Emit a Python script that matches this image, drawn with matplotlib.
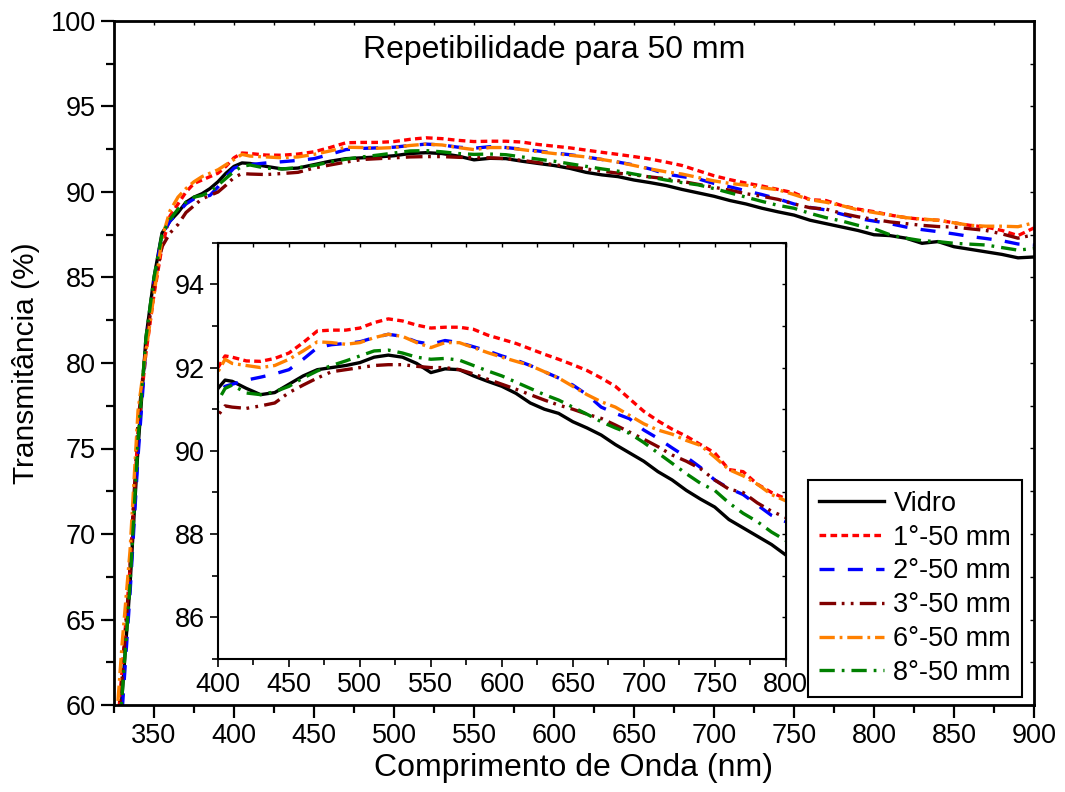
import matplotlib
matplotlib.use("Agg")
import matplotlib.pyplot as plt
from matplotlib.ticker import MultipleLocator

plt.rcParams['font.family'] = ['Liberation Sans', 'DejaVu Sans']
plt.rcParams['lines.scale_dashes'] = False

# wavelength grid (nm)
wavelength = list(range(325, 410, 5)) + list(range(410, 910, 10))

vidro = [55.0, 60.5, 67.0, 75.0, 81.5, 85.0, 87.6, 88.3, 88.8, 89.4, 89.7, 89.9, 90.2, 90.6, 91.1, 91.5, 91.7,
         91.67, 91.5, 91.35, 91.4, 91.6, 91.8, 91.95, 92.0, 92.05, 92.12,
         92.25, 92.3, 92.25, 92.1, 91.88, 91.97, 91.95, 91.8, 91.67, 91.55,
         91.38, 91.15, 91.0, 90.9, 90.7, 90.55, 90.38, 90.15, 89.95, 89.75,
         89.5, 89.3, 89.05, 88.84, 88.65, 88.35, 88.15, 87.95, 87.75, 87.5,
         87.45, 87.3, 87.0, 87.1, 86.8, 86.65, 86.5, 86.35, 86.15, 86.2]

rep1 = [56.0, 62.0, 68.0, 76.0, 80.6, 84.0, 86.8, 88.6, 89.3, 90.0, 90.5, 90.7, 90.9, 91.1, 91.5, 92.0, 92.28,
        92.25, 92.16, 92.15, 92.22, 92.35, 92.6, 92.88, 92.9, 92.9, 92.95,
        93.08, 93.17, 93.12, 93.02, 92.95, 92.97, 92.97, 92.92, 92.78, 92.68,
        92.58, 92.45, 92.32, 92.2, 92.07, 91.93, 91.75, 91.55, 91.25, 90.95,
        90.72, 90.52, 90.35, 90.15, 89.95, 89.55, 89.5, 89.2, 89.0, 88.85,
        88.65, 88.5, 88.4, 88.35, 88.2, 88.05, 87.95, 87.75, 87.45, 87.9]

rep2 = [54.0, 59.5, 66.5, 74.5, 81.0, 84.8, 87.5, 88.3, 88.8, 89.3, 89.6, 89.7, 89.8, 90.3, 90.9, 91.4, 91.55,
        91.6, 91.7, 91.77, 91.85, 91.95, 92.2, 92.48, 92.55, 92.58, 92.62,
        92.72, 92.8, 92.75, 92.62, 92.56, 92.65, 92.6, 92.5, 92.4, 92.28,
        92.18, 92.05, 91.9, 91.75, 91.58, 91.35, 91.05, 90.9, 90.77, 90.5,
        90.3, 90.07, 89.85, 89.6, 89.3, 89.1, 88.95, 88.7, 88.45, 88.3,
        88.15, 87.95, 87.8, 87.68, 87.55, 87.4, 87.28, 87.15, 86.96, 86.9]

rep3 = [56.0, 61.5, 68.0, 76.5, 81.0, 84.5, 86.8, 87.6, 88.1, 88.8, 89.2, 89.6, 89.8, 90.0, 90.4, 90.85, 91.08,
        91.05, 91.02, 91.08, 91.15, 91.4, 91.58, 91.75, 91.9, 91.95, 92.0,
        92.05, 92.07, 92.07, 92.03, 92.0, 92.0, 91.95, 91.85, 91.72, 91.6,
        91.48, 91.35, 91.22, 91.1, 91.0, 90.88, 90.78, 90.62, 90.45, 90.28,
        90.1, 89.9, 89.75, 89.57, 89.3, 89.08, 89.0, 88.75, 88.55, 88.4,
        88.25, 88.15, 88.05, 87.98, 87.95, 87.85, 87.75, 87.55, 87.3, 87.5]

rep6 = [57.0, 63.5, 69.0, 77.2, 80.7, 84.0, 87.3, 88.9, 89.7, 90.2, 90.6, 90.9, 91.1, 91.3, 91.6, 91.9, 92.2,
        92.1, 92.05, 92.0, 92.05, 92.2, 92.4, 92.62, 92.6, 92.56, 92.6,
        92.72, 92.8, 92.75, 92.6, 92.48, 92.6, 92.6, 92.48, 92.36, 92.25,
        92.15, 92.05, 91.9, 91.75, 91.55, 91.35, 91.18, 91.05, 90.85, 90.65,
        90.5, 90.4, 90.25, 90.13, 89.85, 89.55, 89.4, 89.2, 88.95, 88.8,
        88.65, 88.5, 88.42, 88.35, 88.2, 88.05, 88.0, 88.0, 87.97, 88.2]

rep8 = [55.0, 60.5, 67.0, 75.5, 81.5, 85.0, 87.5, 88.4, 89.0, 89.4, 89.7, 89.8, 90.0, 90.4, 90.8, 91.2, 91.5,
        91.58, 91.39, 91.35, 91.42, 91.55, 91.75, 91.92, 92.05, 92.16, 92.28,
        92.4, 92.42, 92.35, 92.25, 92.2, 92.22, 92.18, 92.05, 91.92, 91.8,
        91.65, 91.5, 91.35, 91.22, 91.05, 90.88, 90.7, 90.55, 90.42, 90.2,
        89.95, 89.7, 89.45, 89.22, 89.05, 88.75, 88.5, 88.3, 88.05, 87.85,
        87.5, 87.3, 87.15, 87.1, 87.0, 86.95, 86.9, 86.75, 86.6, 86.7]

labels = ['Vidro', '1°-50 mm', '2°-50 mm', '3°-50 mm', '6°-50 mm', '8°-50 mm']
series = [vidro, rep1, rep2, rep3, rep6, rep8]
colors = ['black', '#ff0000', '#0000ff', '#800000', '#ff8000', '#008000']
dash_styles = [None, (4.8, 3.1), (10.8, 9.6), (12, 4, 2, 4.5, 2, 4.5), (11, 3.5, 2, 3.5), (11, 5, 2, 5)]


def draw_curves(axis):
    for vals, lab, col, ds in zip(series, labels, colors, dash_styles):
        if ds is None:
            axis.plot(wavelength, vals, color=col, lw=2.4, label=lab)
        else:
            axis.plot(wavelength, vals, color=col, lw=2.4, dashes=ds, label=lab)


def inner_ticks(axis, xmaj, xmin, ymaj, ymin):
    # small inward ticks on top and right, no labels
    top = axis.secondary_xaxis('top')
    top.xaxis.set_major_locator(MultipleLocator(xmaj))
    top.xaxis.set_minor_locator(MultipleLocator(xmin))
    top.tick_params(which='both', direction='in', length=3, width=1, labeltop=False)
    right = axis.secondary_yaxis('right')
    right.yaxis.set_major_locator(MultipleLocator(ymaj))
    right.yaxis.set_minor_locator(MultipleLocator(ymin))
    right.tick_params(which='both', direction='in', length=3, width=1, labelright=False)


fig = plt.figure(figsize=(10.65, 7.92), dpi=100)
ax = fig.add_axes([114 / 1065, 1 - 705 / 792, (1034 - 114) / 1065, (705 - 21) / 792])
draw_curves(ax)

ax.set_xlim(325, 900)
ax.set_ylim(60, 100)
ax.xaxis.set_major_locator(MultipleLocator(50))
ax.xaxis.set_minor_locator(MultipleLocator(25))
ax.yaxis.set_major_locator(MultipleLocator(5))
ax.yaxis.set_minor_locator(MultipleLocator(2.5))
ax.tick_params(which='major', direction='out', length=9.5, width=1.6, labelsize=19.5)
ax.tick_params(which='minor', direction='out', length=5.5, width=1.6)
for sp in ax.spines.values():
    sp.set_linewidth(2)
inner_ticks(ax, 50, 25, 5, 2.5)

ax.set_xlabel('Comprimento de Onda (nm)', fontsize=23, labelpad=3)
ax.set_ylabel('Transmitância (%)', fontsize=21.5, labelpad=8)
ax.text(0.479, 0.958, 'Repetibilidade para 50 mm', transform=ax.transAxes,
        ha='center', va='center', fontsize=23)

leg = ax.legend(loc='lower right', bbox_to_anchor=(0.987, 0.012), borderaxespad=0,
                frameon=True, fancybox=False, edgecolor='black', framealpha=1,
                fontsize=19.5, handlelength=2.4, handletextpad=0.35,
                labelspacing=0.29, borderpad=0.4)
leg.get_frame().set_linewidth(1.5)

# zoomed inset
axin = fig.add_axes([218 / 1065, 1 - 659 / 792, (785.7 - 218) / 1065, (659 - 242.7) / 792])
draw_curves(axin)
axin.set_xlim(400, 800)
axin.set_ylim(85, 95)
axin.xaxis.set_major_locator(MultipleLocator(50))
axin.xaxis.set_minor_locator(MultipleLocator(25))
axin.yaxis.set_major_locator(MultipleLocator(2))
axin.yaxis.set_minor_locator(MultipleLocator(1))
axin.tick_params(which='major', direction='out', length=6, width=1.2, labelsize=19.5)
axin.tick_params(which='minor', direction='out', length=4, width=1.2)
for sp in axin.spines.values():
    sp.set_linewidth(1.5)
inner_ticks(axin, 50, 25, 2, 1)

fig.savefig('out.png', dpi=100)
